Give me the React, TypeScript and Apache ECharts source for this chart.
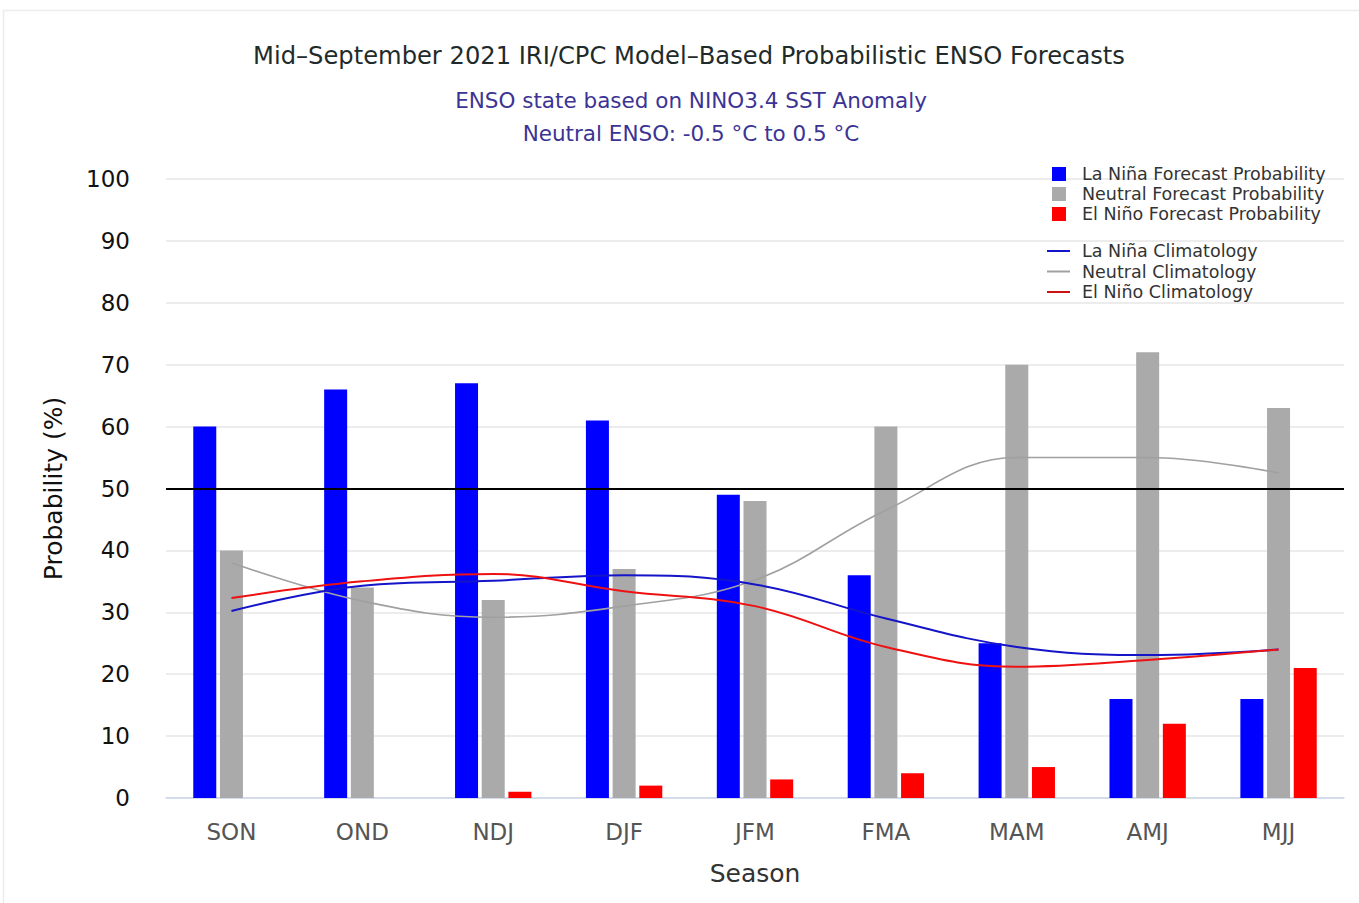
import React, { useEffect, useRef } from "react";
import * as echarts from "echarts";

const seasons = ["SON", "OND", "NDJ", "DJF", "JFM", "FMA", "MAM", "AMJ", "MJJ"];
const laNinaProb = [60, 66, 67, 61, 49, 36, 25, 16, 16];
const neutralProb = [40, 34, 32, 37, 48, 60, 70, 72, 63];
const elNinoProb = [0, 0, 1, 2, 3, 4, 5, 12, 21];
const laNinaClim = [30.2, 34.3, 35.1, 36, 34.5, 29, 24.4, 23.1, 24];
const neutralClim = [38, 31.8, 29.2, 31, 35.2, 46.5, 55, 55, 52.5];
const elNinoClim = [32.3, 35, 36.2, 33.4, 31, 24.4, 21.2, 22.3, 24];
const yTicks = { min: 0, max: 100, interval: 10 };

const FONT = "DejaVu Sans";

export default function App() {
  const ref = useRef<HTMLDivElement>(null);
  useEffect(() => {
    const chart = echarts.init(ref.current!, null, { renderer: "svg" });
    const barNames = [
      "La Niña Forecast Probability",
      "Neutral Forecast Probability",
      "El Niño Forecast Probability",
    ];
    const lineNames = ["La Niña Climatology", "Neutral Climatology", "El Niño Climatology"];
    chart.setOption({
      animation: false,
      backgroundColor: "#ffffff",
      textStyle: { fontFamily: FONT },
      title: [
        {
          text: "Mid–September 2021 IRI/CPC Model–Based Probabilistic ENSO Forecasts",
          left: 684,
          top: 39,
          textAlign: "center",
          textStyle: { fontFamily: FONT, fontSize: 24.2, fontWeight: "normal", color: "#1f2b2b" },
        },
        {
          text: "ENSO state based on NINO3.4 SST Anomaly\nNeutral ENSO: -0.5 °C to 0.5 °C",
          left: 686,
          top: 79,
          textAlign: "center",
          textStyle: {
            fontFamily: FONT,
            fontSize: 21.5,
            fontWeight: "normal",
            color: "#3b3494",
            lineHeight: 33,
          },
        },
      ],
      legend: [
        {
          data: barNames,
          orient: "vertical",
          left: 1047,
          top: 159,
          itemWidth: 14,
          itemHeight: 14,
          itemGap: 0,
          icon: "rect",
          textStyle: {
            fontFamily: FONT,
            fontSize: 17.5,
            lineHeight: 20,
            color: "#333",
            padding: [0, 0, 0, 11],
          },
        },
        {
          data: lineNames,
          orient: "vertical",
          left: 1042,
          top: 236,
          itemWidth: 23,
          itemHeight: 2,
          itemGap: 0.5,
          icon: "rect",
          textStyle: {
            fontFamily: FONT,
            fontSize: 17.5,
            lineHeight: 20,
            color: "#333",
            padding: [0, 0, 0, 7],
          },
        },
      ],
      grid: { left: 166, right: 15, top: 179, bottom: 105, containLabel: false },
      xAxis: {
        type: "category",
        data: seasons,
        name: "Season",
        nameLocation: "middle",
        nameGap: 63,
        nameTextStyle: { fontFamily: FONT, fontSize: 25, color: "#333" },
        axisLine: { lineStyle: { color: "#ccd6eb", width: 1.5 } },
        axisTick: { show: false },
        axisLabel: { fontFamily: FONT, fontSize: 23, color: "#555", margin: 22 },
      },
      yAxis: {
        type: "value",
        min: yTicks.min,
        max: yTicks.max,
        interval: yTicks.interval,
        name: "Probability (%)",
        nameLocation: "middle",
        nameGap: 100,
        nameTextStyle: { fontFamily: FONT, fontSize: 25, color: "#111" },
        axisLine: { show: false },
        axisTick: { show: false },
        axisLabel: { fontFamily: FONT, fontSize: 23, color: "#111", margin: 36 },
        splitLine: { lineStyle: { color: "#e6e6e6", width: 1.5 } },
      },
      series: [
        {
          name: barNames[0],
          type: "bar",
          data: laNinaProb,
          barWidth: 23,
          barGap: "16%",
          itemStyle: { color: "#0000ff" },
          markLine: {
            silent: true,
            symbol: "none",
            label: { show: false },
            lineStyle: { color: "#000", width: 2, type: "solid" },
            data: [{ yAxis: 50 }],
          },
        },
        {
          name: barNames[1],
          type: "bar",
          data: neutralProb,
          barWidth: 23,
          barGap: "16%",
          itemStyle: { color: "#aaaaaa" },
        },
        {
          name: barNames[2],
          type: "bar",
          data: elNinoProb,
          barWidth: 23,
          barGap: "16%",
          itemStyle: { color: "#ff0000" },
        },
        {
          name: lineNames[0],
          type: "line",
          data: laNinaClim,
          smooth: 0.4,
          symbol: "none",
          lineStyle: { color: "#1414c8", width: 2 },
          itemStyle: { color: "#1414c8" },
          z: 5,
        },
        {
          name: lineNames[1],
          type: "line",
          data: neutralClim,
          smooth: 0.4,
          symbol: "none",
          lineStyle: { color: "#a0a0a0", width: 1.6 },
          itemStyle: { color: "#a0a0a0" },
          z: 4,
        },
        {
          name: lineNames[2],
          type: "line",
          data: elNinoClim,
          smooth: 0.4,
          symbol: "none",
          lineStyle: { color: "#ee1111", width: 2 },
          itemStyle: { color: "#cc1111" },
          z: 5,
        },
      ],
      graphic: [
        {
          type: "rect",
          shape: { x: 3.5, y: 10.5, width: 1400, height: 1000 },
          style: { fill: "none", stroke: "#ececec", lineWidth: 1.5 },
          silent: true,
        },
      ],
    });
    return () => chart.dispose();
  }, []);
  return (
    <div
      ref={ref}
      style={{ position: "fixed", left: 0, top: 0, width: 1359, height: 903 }}
    />
  );
}
